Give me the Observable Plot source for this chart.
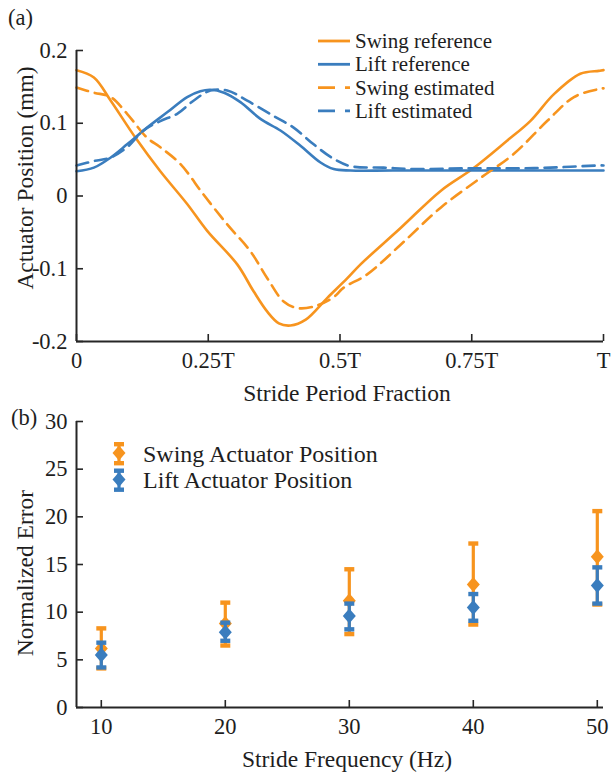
<!DOCTYPE html>
<html><head><meta charset="utf-8">
<script src="https://cdn.jsdelivr.net/npm/d3@7"></script>
<script src="https://cdn.jsdelivr.net/npm/@observablehq/plot@0.6"></script>
<style>
html,body{margin:0;padding:0;background:#fff;}
#fig{position:relative;width:614px;height:773px;overflow:hidden;background:#fff;}
#fig svg{position:absolute;left:0;}
#fig svg, #fig svg text{font-family:"Liberation Serif","Times New Roman",serif !important;}
</style></head><body>
<div id="fig"></div>
<script>
// ---------- Panel (a): actuator position over one stride ----------
const fracTicks = [0, 0.25, 0.5, 0.75, 1];
const fracTickLabels = ["0", "0.25T", "0.5T", "0.75T", "T"];
const posTicks = [-0.2, -0.1, 0, 0.1, 0.2];

const swingRefF = [0, 0.033, 0.065, 0.112, 0.159, 0.21, 0.248, 0.305, 0.336, 0.362, 0.384, 0.406, 0.435, 0.476, 0.514, 0.539, 0.615, 0.691, 0.751, 0.817, 0.861, 0.906, 0.956, 0.991, 1];
const swingRefV = [0.173, 0.163, 0.131, 0.080, 0.034, -0.011, -0.048, -0.094, -0.131, -0.159, -0.175, -0.178, -0.170, -0.140, -0.113, -0.094, -0.044, 0.007, 0.037, 0.076, 0.103, 0.140, 0.168, 0.172, 0.173];

const liftRefF = [0, 0.033, 0.065, 0.096, 0.134, 0.172, 0.210, 0.235, 0.254, 0.280, 0.311, 0.349, 0.387, 0.425, 0.463, 0.488, 0.52, 0.6, 0.8, 1];
const liftRefV = [0.034, 0.039, 0.053, 0.071, 0.094, 0.115, 0.136, 0.144, 0.146, 0.142, 0.129, 0.106, 0.090, 0.069, 0.046, 0.037, 0.035, 0.035, 0.035, 0.035];

const swingEstF = [0, 0.033, 0.065, 0.096, 0.134, 0.159, 0.197, 0.241, 0.286, 0.330, 0.362, 0.393, 0.419, 0.45, 0.488, 0.507, 0.551, 0.615, 0.691, 0.767, 0.830, 0.893, 0.944, 0.991, 1];
const swingEstV = [0.149, 0.142, 0.136, 0.113, 0.080, 0.067, 0.044, 0.002, -0.039, -0.076, -0.113, -0.145, -0.154, -0.152, -0.139, -0.126, -0.108, -0.067, -0.016, 0.025, 0.058, 0.103, 0.136, 0.147, 0.148];

const liftEstF = [0, 0.033, 0.065, 0.096, 0.127, 0.159, 0.191, 0.222, 0.254, 0.286, 0.324, 0.374, 0.412, 0.45, 0.488, 0.52, 0.583, 0.646, 0.741, 0.836, 0.899, 0.991, 1];
const liftEstV = [0.042, 0.048, 0.053, 0.067, 0.090, 0.103, 0.113, 0.131, 0.145, 0.145, 0.131, 0.110, 0.094, 0.071, 0.051, 0.041, 0.039, 0.037, 0.038, 0.038, 0.039, 0.042, 0.042];

const legendA = ["Swing reference", "Lift reference", "Swing estimated", "Lift estimated"];

// ---------- Panel (b): normalized error vs stride frequency ----------
const freqs = [10, 20, 30, 40, 50];
const freqTicks = [10, 20, 30, 40, 50];
const errTicks = [0, 5, 10, 15, 20, 25, 30];
const swingMean = [6.2, 8.8, 11.2, 12.9, 15.8];
const swingLo   = [4.1, 6.5, 7.7, 8.7, 10.8];
const swingHi   = [8.3, 11.0, 14.5, 17.2, 20.6];
const liftMean  = [5.5, 7.9, 9.6, 10.5, 12.8];
const liftLo    = [4.2, 7.0, 8.2, 9.1, 10.9];
const liftHi    = [6.8, 8.9, 10.9, 11.9, 14.7];
const legendB = ["Swing Actuator Position", "Lift Actuator Position"];

// ---------- styling ----------
const ORANGE = "#F7941E";
const BLUE = "#3A7DBE";
const AXIS = "#262626";
const FONT = "Liberation Serif";
const W = 614;

const capSym = {draw(ctx) { ctx.rect(-5, -2.2, 10, 4.4); }};
const diamondSym = {draw(ctx) { ctx.moveTo(0, -7.5); ctx.lineTo(6.5, 0); ctx.lineTo(0, 7.5); ctx.lineTo(-6.5, 0); ctx.closePath(); }};

function frameMarks({xTicks, yTicks, xFmt, yFmt, x0, y0, innerW, innerH}) {
  return [
    Plot.ruleX([x0], {stroke: AXIS, strokeWidth: 2}),
    Plot.ruleY([y0], {stroke: AXIS, strokeWidth: 2}),
    Plot.tickY(yTicks, {y: d => d, insetRight: innerW - 7, stroke: AXIS, strokeWidth: 1.6}),
    Plot.tickX(xTicks, {x: d => d, insetTop: innerH - 7, stroke: AXIS, strokeWidth: 1.6}),
    Plot.axisY(yTicks, {tickSize: 0, tickPadding: 9, tickFormat: yFmt, label: null, fontSize: 22.5, fontFamily: FONT, fill: "#1e1e1e"}),
    Plot.axisX(xTicks, {tickSize: 0, tickPadding: 11, tickFormat: xFmt, label: null, fontSize: 22.5, fontFamily: FONT, fill: "#1e1e1e"})
  ];
}

// Panel (a)
const aTop = 50, aBottom = 341, aH = 410, mL = 76, mR = 11;
const plotA = Plot.plot({
  width: W, height: aH, marginLeft: mL, marginRight: mR, marginTop: aTop, marginBottom: aH - aBottom,
  style: {fontFamily: FONT, fontSize: "22.5px", color: AXIS, background: "transparent", overflow: "visible"},
  x: {domain: [0, 1]},
  y: {domain: [-0.2, 0.2]},
  marks: [
    Plot.line(swingRefV, {x: swingRefF, y: swingRefV, stroke: ORANGE, strokeWidth: 2.6, curve: "catmull-rom"}),
    Plot.line(liftRefV, {x: liftRefF, y: liftRefV, stroke: BLUE, strokeWidth: 2.6, curve: "catmull-rom"}),
    Plot.line(swingEstV, {x: swingEstF, y: swingEstV, stroke: ORANGE, strokeWidth: 2.6, strokeDasharray: "12,7", curve: "catmull-rom"}),
    Plot.line(liftEstV, {x: liftEstF, y: liftEstV, stroke: BLUE, strokeWidth: 2.6, strokeDasharray: "12,7", curve: "catmull-rom"}),
    ...frameMarks({xTicks: fracTicks, yTicks: posTicks,
      xFmt: d => fracTickLabels[fracTicks.indexOf(d)],
      yFmt: d => d === 0 ? "0" : String(d),
      x0: 0, y0: -0.2, innerW: W - mL - mR, innerH: aBottom - aTop})
  ]
});
plotA.style.top = "0px";

// Panel (b)
const bOff = 410, bTop = 421, bBottom = 707, bH = 773 - bOff;
const swingRows = freqs.map((f, i) => ({f, m: swingMean[i], lo: swingLo[i], hi: swingHi[i]}));
const liftRows = freqs.map((f, i) => ({f, m: liftMean[i], lo: liftLo[i], hi: liftHi[i]}));
function errMarks(rows, color) {
  return [
    Plot.ruleX(rows, {x: "f", y1: "lo", y2: "hi", stroke: color, strokeWidth: 3.2}),
    Plot.dot(rows, {x: "f", y: "hi", symbol: capSym, fill: color, stroke: "none"}),
    Plot.dot(rows, {x: "f", y: "lo", symbol: capSym, fill: color, stroke: "none"}),
    Plot.dot(rows, {x: "f", y: "m", symbol: diamondSym, fill: color, stroke: "none"})
  ];
}
const plotB = Plot.plot({
  width: W, height: bH, marginLeft: mL, marginRight: mR, marginTop: bTop - bOff, marginBottom: 773 - bBottom,
  style: {fontFamily: FONT, fontSize: "22.5px", color: AXIS, background: "transparent", overflow: "visible"},
  x: {domain: [8, 50.5]},
  y: {domain: [0, 30]},
  marks: [
    ...errMarks(swingRows, ORANGE),
    ...errMarks(liftRows, BLUE),
    ...frameMarks({xTicks: freqTicks, yTicks: errTicks,
      xFmt: d => String(d), yFmt: d => String(d),
      x0: 8, y0: 0, innerW: W - mL - mR, innerH: bBottom - bTop})
  ]
});
plotB.style.top = bOff + "px";

const fig = document.getElementById("fig");
fig.appendChild(plotA);
fig.appendChild(plotB);

// ---------- overlay: panel letters, axis titles, legends ----------
const ns = "http://www.w3.org/2000/svg";
const ov = document.createElementNS(ns, "svg");
ov.setAttribute("width", W); ov.setAttribute("height", 773);
ov.style.top = "0px"; ov.style.pointerEvents = "none";
ov.setAttribute("font-family", FONT);
fig.appendChild(ov);
function txt(s, x, y, size, opts = {}) {
  const t = document.createElementNS(ns, "text");
  t.textContent = s;
  t.setAttribute("x", x); t.setAttribute("y", y);
  t.setAttribute("font-size", size);
  t.setAttribute("font-family", FONT);
  t.setAttribute("fill", "#1e1e1e");
  if (opts.anchor) t.setAttribute("text-anchor", opts.anchor);
  if (opts.rotate) t.setAttribute("transform", `rotate(-90 ${x} ${y})`);
  ov.appendChild(t);
  return t;
}
function el(name, attrs) {
  const e = document.createElementNS(ns, name);
  for (const k in attrs) e.setAttribute(k, attrs[k]);
  ov.appendChild(e);
  return e;
}
txt("(a)", 8, 25, 22.5);
txt("(b)", 11, 425, 22.5);
txt("Actuator Position (mm)", 33, 178, 23.5, {anchor: "middle", rotate: true});
txt("Stride Period Fraction", 347, 401, 23.5, {anchor: "middle"});
txt("Normalized Error", 33, 573, 23.5, {anchor: "middle", rotate: true});
txt("Stride Frequency (Hz)", 347, 767, 23.5, {anchor: "middle"});

// legend (a)
const legAColors = [ORANGE, BLUE, ORANGE, BLUE];
const legADash = [null, null, "17,10", "17,10"];
legendA.forEach((s, i) => {
  const yb = 48 + 23.3 * i;
  const ln = el("line", {x1: 318, x2: 350, y1: yb - 7, y2: yb - 7, stroke: legAColors[i], "stroke-width": 2.8});
  if (legADash[i]) ln.setAttribute("stroke-dasharray", legADash[i]);
  txt(s, 355, yb, 21);
});

// legend (b)
const legBColors = [ORANGE, BLUE];
legendB.forEach((s, i) => {
  const yc = 453 + 26.5 * i;
  const c = legBColors[i];
  el("line", {x1: 119, x2: 119, y1: yc - 9, y2: yc + 10, stroke: c, "stroke-width": 3.2});
  el("rect", {x: 114, y: yc - 11, width: 10, height: 4.4, fill: c});
  el("rect", {x: 114, y: yc + 8, width: 10, height: 4.4, fill: c});
  el("path", {d: `M119,${yc - 7.5}L125.5,${yc}L119,${yc + 7.5}L112.5,${yc}Z`, fill: c});
  txt(s, 143, yc + 8.5, 24);
});
</script>
</body></html>
